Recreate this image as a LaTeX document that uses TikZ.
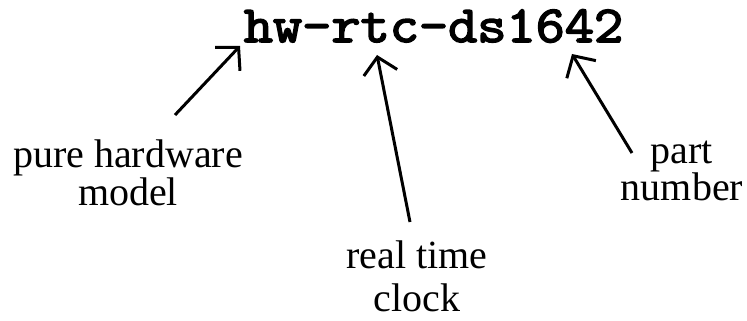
\documentclass[tikz,border=0pt]{standalone}
\usepackage{fontspec}
\usepackage{graphicx}
\setmainfont{Liberation Serif}
\newfontfamily\titlefont{Latin Modern Mono}[FakeBold=3]
\usetikzlibrary{arrows.meta}
\tikzset{
  label text/.style={inner sep=0pt, align=center, anchor=base},
  pointer/.style={line width=3pt, -{Straight Barb[length=16pt,width=34pt,line width=3pt]}}
}
\begin{document}
\begin{tikzpicture}[x=1pt,y=-1pt]
  \useasboundingbox (0,0) rectangle (747,321);
  % the package name
  \node[inner sep=0pt, anchor=base, font=\fontsize{52}{56}\selectfont\titlefont]
    (name) at (433.5,42) {\scalebox{1.09}[1]{hw-rtc-ds1642}};
  % the meaning of each part (anchored at the baseline of the last line)
  \node[label text, font=\fontsize{40}{35}\selectfont] (hw) at (128,205) {pure hardware\\model};
  \node[label text, font=\fontsize{40}{43}\selectfont] (rtc) at (417,311) {real time\\clock};
  \node[label text, font=\fontsize{40}{37}\selectfont] (part) at (682,200) {part\\number};
  % arrow ends
  \coordinate (hwtail) at (175,115);
  \coordinate (hwtip) at (240,46);
  \coordinate (rtctail) at (410,222);
  \coordinate (rtctip) at (377,55);
  \coordinate (parttail) at (632,153);
  \coordinate (parttip) at (572,54);
  \draw[pointer] (hwtail) -- (hwtip);
  \draw[pointer] (rtctail) -- (rtctip);
  \draw[pointer] (parttail) -- (parttip);
\end{tikzpicture}
\end{document}
